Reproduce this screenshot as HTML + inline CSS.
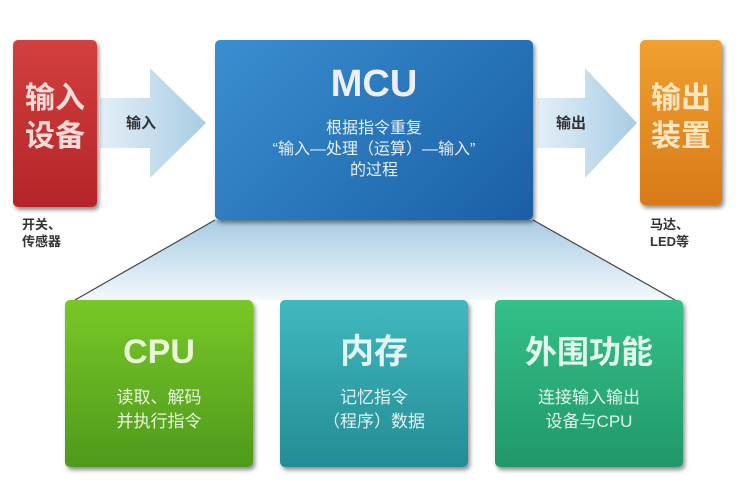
<!DOCTYPE html>
<html><head><meta charset="utf-8"><style>
body{margin:0;width:754px;height:484px;background:#fff;position:relative;overflow:hidden;font-family:"Liberation Sans","Noto Sans CJK SC",sans-serif}
.b{position:absolute;border-radius:5px;box-shadow:2px 3px 4px rgba(0,0,0,.45);color:#fff;text-align:center}
.t{position:absolute;font-weight:bold;color:#333;font-size:15px;line-height:19px}
</style></head><body>
<svg width="754" height="484" style="position:absolute;left:0;top:0">
<defs>
<linearGradient id="tr" x1="0" y1="0" x2="0" y2="1"><stop offset="0" stop-color="#a8cce4"/><stop offset="1" stop-color="#f4f8fb"/></linearGradient>
<linearGradient id="ar" x1="0" y1="0" x2="1" y2="0"><stop offset="0" stop-color="#e4eff7"/><stop offset="1" stop-color="#a7cce4"/></linearGradient>
</defs>
<polygon points="215,220 533,220 675,300 75,300" fill="url(#tr)"/>
<line x1="215" y1="220" x2="75" y2="300" stroke="#444" stroke-width="1.2"/>
<line x1="533" y1="220" x2="675" y2="300" stroke="#444" stroke-width="1.2"/>
<polygon points="100,98 150,98 150,68 206,123 150,178 150,148 100,148" fill="url(#ar)"/>
<polygon points="537,98 585,98 585,68 637,123 585,178 585,148 537,148" fill="url(#ar)"/>
</svg>
<div class="b" style="left:13px;top:40px;width:84px;height:167px;background:linear-gradient(#d2403f,#b42428)"><div style="margin-top:40px;font-size:30px;line-height:38px;font-weight:bold;color:#f3dcd8">输入<br>设备</div></div>
<div class="b" style="left:215px;top:40px;width:318px;height:180px;background:linear-gradient(135deg,#3a8fd0,#1a5fa6)">
<div style="margin-top:22px;font-size:38px;font-weight:bold;line-height:44px;color:#eef">MCU</div>
<div style="margin-top:12px;font-size:16px;line-height:21px;color:#e8f0f8">根据指令重复<br>“输入—处理（运算）—输入”<br>的过程</div></div>
<div class="b" style="left:640px;top:40px;width:82px;height:165px;background:linear-gradient(#f0a030,#d87a18)"><div style="margin-top:40px;font-size:30px;line-height:38px;font-weight:bold;color:#fbe6c4">输出<br>装置</div></div>
<div class="t" style="left:126px;top:114px">输入</div>
<div class="t" style="left:556px;top:114px">输出</div>
<div class="t" style="left:22px;top:216px;font-size:13px;line-height:17px">开关、<br>传感器</div>
<div class="t" style="left:650px;top:216px;font-size:13px;line-height:17px">马达、<br>LED等</div>
<div class="b" style="left:65px;top:300px;width:188px;height:167px;background:linear-gradient(#78c828,#4e9a1c)">
<div style="margin-top:32px;font-size:34px;font-weight:bold;line-height:40px;color:#eaf6d8">CPU</div>
<div style="margin-top:14px;font-size:17px;line-height:24px;color:#e8f4dc">读取、解码<br>并执行指令</div></div>
<div class="b" style="left:280px;top:300px;width:188px;height:167px;background:linear-gradient(#40b8c0,#248c94)">
<div style="margin-top:32px;font-size:34px;font-weight:bold;line-height:40px;color:#e2f4f4">内存</div>
<div style="margin-top:14px;font-size:17px;line-height:24px;color:#e2f2f2">记忆指令<br>（程序）数据</div></div>
<div class="b" style="left:495px;top:300px;width:188px;height:167px;background:linear-gradient(#34c088,#20986a)">
<div style="margin-top:32px;font-size:32px;font-weight:bold;line-height:40px;color:#e2f6ec">外围功能</div>
<div style="margin-top:14px;font-size:17px;line-height:24px;color:#e2f4ea">连接输入输出<br>设备与CPU</div></div>
</body></html>
